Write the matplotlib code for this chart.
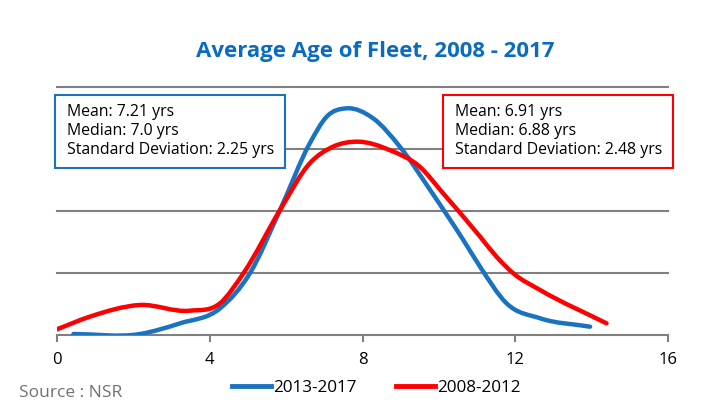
import matplotlib.pyplot as plt
from matplotlib.path import Path
from matplotlib.patches import PathPatch, Rectangle
from matplotlib.lines import Line2D
import numpy as np

# values (age in years, density)
blue_x = [0.43, 2.17, 3.22, 4.27, 5.05, 5.84, 6.62, 7.06, 7.58, 8.28, 9.0, 9.77, 10.64, 11.08, 11.77, 12.65, 13.96]
blue_y = [0.0008, 0.0008, 0.0094, 0.0215, 0.0497, 0.1008, 0.1546, 0.176, 0.1828, 0.1747, 0.151, 0.117, 0.0766, 0.055, 0.0256, 0.0135, 0.0067]
red_x = [0.0, 0.86, 2.17, 3.48, 4.27, 4.88, 5.84, 6.62, 7.23, 7.89, 8.72, 9.5, 10.11, 11.08, 11.51, 11.95, 12.65, 14.39]
red_y = [0.0046, 0.0148, 0.0242, 0.0196, 0.0256, 0.0497, 0.1008, 0.1385, 0.1519, 0.1559, 0.149, 0.1357, 0.1143, 0.0793, 0.0631, 0.0497, 0.0363, 0.0094]
labels = ['2013-2017', '2008-2012']
stats_blue = ['Mean: 7.21 yrs', 'Median: 7.0 yrs', 'Standard Deviation: 2.25 yrs']
stats_red = ['Mean: 6.91 yrs', 'Median: 6.88 yrs', 'Standard Deviation: 2.48 yrs']

BLUE = '#1a73c1'
RED = '#ff0000'
plt.rcParams['font.family'] = ['Open Sans', 'DejaVu Sans']


def smooth_path(xs, ys):
    # smoothed line through the points: hermite tangents -> cubic bezier
    x = np.asarray(xs, float)
    y = np.asarray(ys, float)
    h = np.diff(x)
    d = np.diff(y) / h
    m = np.empty(len(x))
    m[0], m[-1] = d[0], d[-1]
    m[1:-1] = (d[:-1] * h[1:] + d[1:] * h[:-1]) / (h[:-1] + h[1:])
    verts = [(x[0], y[0])]
    codes = [Path.MOVETO]
    for i in range(len(x) - 1):
        verts += [(x[i] + h[i] / 3, y[i] + m[i] * h[i] / 3),
                  (x[i + 1] - h[i] / 3, y[i + 1] - m[i + 1] * h[i] / 3),
                  (x[i + 1], y[i + 1])]
        codes += [Path.CURVE4] * 3
    return Path(verts, codes)


fig = plt.figure(figsize=(7.04, 4.16), dpi=100)
ax = fig.add_axes([57 / 704, 81 / 416, 611 / 704, 248 / 416])

for xs, ys, c in [(blue_x, blue_y, BLUE), (red_x, red_y, RED)]:
    ax.add_patch(PathPatch(smooth_path(xs, ys), facecolor='none', edgecolor=c, lw=3.2,
                           capstyle='round', joinstyle='round', zorder=3))

ax.set_xlim(0, 16)
ax.set_ylim(0, 0.2)
ax.set_xticks([0, 4, 8, 12, 16])
ax.set_yticks([0.05, 0.1, 0.15, 0.2])
ax.set_yticklabels([])
ax.tick_params(axis='y', length=0)
ax.tick_params(axis='x', direction='out', length=5, color='#808080', width=1.5, labelsize=12, pad=7)
ax.grid(axis='y', color='#808080', lw=1.5)
for gl in ax.get_ygridlines():
    gl.set_clip_on(False)
for s in ['top', 'left', 'right']:
    ax.spines[s].set_visible(False)
ax.spines['bottom'].set_color('#808080')
ax.spines['bottom'].set_linewidth(1.5)

fig.text(375 / 704, 1 - 52 / 416, 'Average Age of Fleet, 2008 - 2017', ha='center', va='center',
         fontsize=16, fontweight='bold', color='#0a6cc0')

# stat boxes
for x0, x1, col, lines in [(55, 285, BLUE, stats_blue), (443, 673, RED, stats_red)]:
    fig.patches.append(Rectangle((x0 / 704, 1 - 168 / 416), (x1 - x0) / 704, 73 / 416,
                                 transform=fig.transFigure, facecolor='white', edgecolor=col, lw=1.5, zorder=5))
    for k, t in enumerate(lines):
        fig.text((x0 + 12) / 704, 1 - (112 + 19 * k) / 416, t, ha='left', va='center', fontsize=11.4, zorder=6)

fig.text(19 / 704, 1 - 393 / 416, 'Source : NSR', ha='left', va='center', fontsize=12.5, color='#707070')

handles = [Line2D([], [], color=BLUE, lw=3.5), Line2D([], [], color=RED, lw=3.5)]
fig.legend(handles, labels, loc='center', bbox_to_anchor=(376 / 704, 1 - 388 / 416), ncol=2, frameon=False,
           fontsize=12.3, handlelength=2.3, handletextpad=0.1, columnspacing=2.3)

fig.savefig('out.png', dpi=100)
